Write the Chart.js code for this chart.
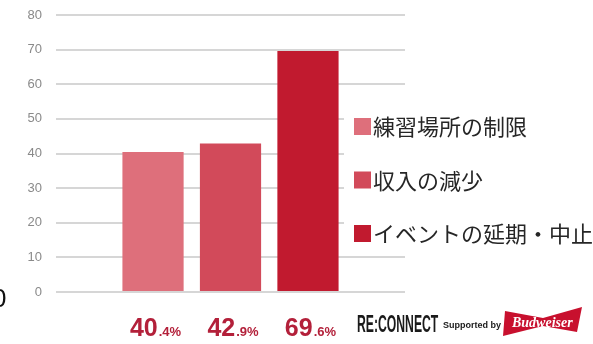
<!DOCTYPE html>
<html>
<head>
<meta charset="utf-8">
<script src="https://cdn.jsdelivr.net/npm/chart.js@4"></script>
<style>
  html, body { margin: 0; padding: 0; background: #fff; }
  #wrap { width: 593px; height: 344px; position: relative; }
</style>
</head>
<body>
<div id="wrap"><canvas id="reasonChart"></canvas></div>
<script>
// data
let reasonLabels = ['練習場所の制限', '収入の減少', 'イベントの延期・中止'];
let reasonValues = [40.4, 42.9, 69.6];
let reasonColors = ['#de6f7b', '#d24a5a', '#c11a2f'];
let yTicks = [0, 10, 20, 30, 40, 50, 60, 70, 80];

let reasonChartElement = document.getElementById('reasonChart');

// legend on the right, white box over the grid
const sideLegend = {
    id: 'sideLegend',
    afterDatasetsDraw(chart) {
        const ctx = chart.ctx;
        ctx.save();
        ctx.fillStyle = '#fff';
        ctx.fillRect(344, 100, 249, 152);
        ctx.font = '22px "Noto Sans CJK JP"';
        ctx.textBaseline = 'middle';
        chart.data.datasets.forEach((ds, i) => {
            let y = 126 + i * 53.5;
            ctx.fillStyle = ds.backgroundColor;
            ctx.fillRect(354, y - 8, 17, 17);
            ctx.fillStyle = '#262626';
            ctx.fillText(ds.label, 373, y + 1);
        });
        ctx.restore();
    }
};

// percent labels under bars + footer logo
const bottomLabels = {
    id: 'bottomLabels',
    afterDraw(chart) {
        const ctx = chart.ctx;
        ctx.save();
        ctx.fillStyle = '#b3203a';
        ctx.textBaseline = 'alphabetic';
        chart.data.datasets.forEach((ds, i) => {
            let bar = chart.getDatasetMeta(i).data[0];
            let parts = String(ds.data[0]).split('.');
            let big = parts[0];
            let small = '.' + parts[1] + '%';
            ctx.font = 'bold 25px "Liberation Sans"';
            let w1 = ctx.measureText(big).width;
            ctx.font = 'bold 13px "Liberation Sans"';
            let w2 = ctx.measureText(small).width;
            let x0 = bar.x - (w1 + w2) / 2 + 2;
            ctx.font = 'bold 25px "Liberation Sans"';
            ctx.fillText(big, x0, 336);
            ctx.font = 'bold 13px "Liberation Sans"';
            ctx.fillText(small, x0 + w1 + 1, 336);
        });

        // RE:CONNECT Supported by Budweiser
        ctx.fillStyle = '#1a1a1a';
        ctx.font = 'bold 23px "Liberation Sans"';
        ctx.save();
        ctx.translate(357, 332);
        ctx.scale(0.53, 1);
        ctx.fillText('RE:CONNECT', 0, 0);
        ctx.restore();
        ctx.font = 'bold 9px "Liberation Sans"';
        ctx.fillText('Supported by', 443, 328);

        ctx.fillStyle = '#c8102e';
        ctx.beginPath();
        ctx.moveTo(505, 311);
        ctx.lineTo(543, 318);
        ctx.lineTo(582, 307);
        ctx.lineTo(577, 332);
        ctx.lineTo(543, 326);
        ctx.lineTo(503, 336);
        ctx.closePath();
        ctx.fill();
        ctx.fillStyle = '#fff';
        ctx.font = 'italic bold 14px "Liberation Serif"';
        ctx.fillText('Budweiser', 512, 327);

        // cut-off glyph at the left edge
        ctx.fillStyle = '#111';
        ctx.font = '26px "Liberation Sans"';
        ctx.fillText('0', -8, 307);
        ctx.restore();
    }
};

new Chart(reasonChartElement, {
    type: 'bar',
    data: {
        labels: [''],
        datasets: reasonLabels.map((label, i) => ({
            label: label,
            data: [reasonValues[i]],
            backgroundColor: reasonColors[i],
            borderWidth: 0,
            barPercentage: 0.79,
            categoryPercentage: 0.666
        }))
    },
    options: {
        responsive: true,
        maintainAspectRatio: false,
        animation: false,
        layout: {
            padding: { left: 0, right: 188, top: 15, bottom: 52 }
        },
        plugins: {
            legend: { display: false },
            tooltip: { enabled: false }
        },
        scales: {
            x: {
                display: false
            },
            y: {
                min: 0,
                max: 80,
                afterBuildTicks: (scale) => {
                    scale.ticks = yTicks.map(v => ({ value: v }));
                },
                afterFit: (scale) => {
                    scale.width = 56;
                    scale.paddingTop = 0;
                    scale.paddingBottom = 0;
                },
                border: { display: false },
                grid: {
                    color: '#d6d6d6',
                    lineWidth: 2,
                    drawTicks: false
                },
                ticks: {
                    padding: 14,
                    color: '#8a8a8a',
                    font: { family: 'Liberation Sans', size: 13 }
                }
            }
        }
    },
    plugins: [sideLegend, bottomLabels]
});
</script>
</body>
</html>
